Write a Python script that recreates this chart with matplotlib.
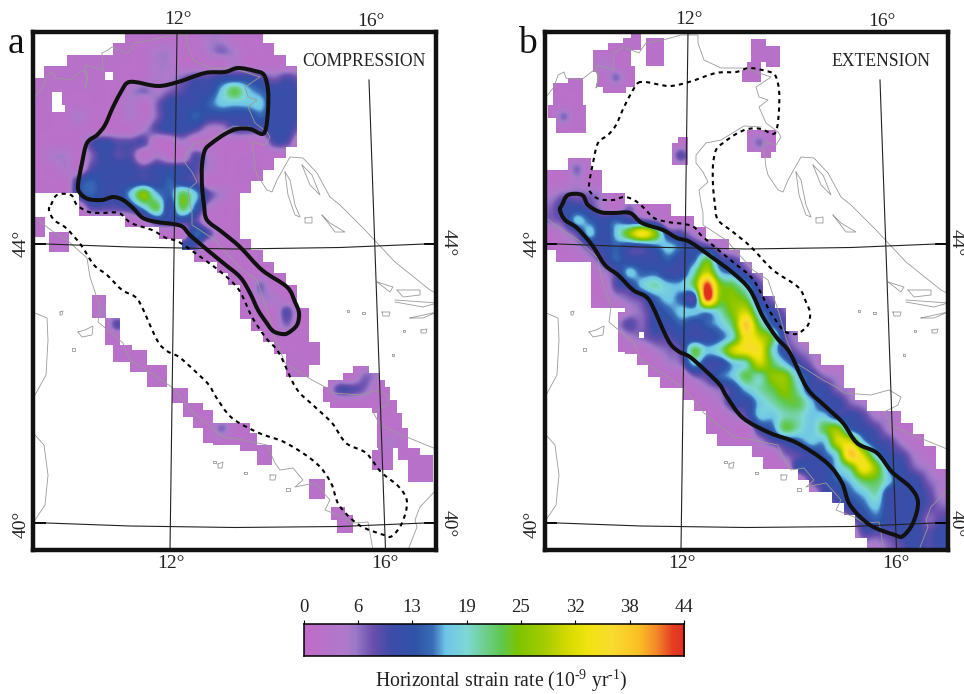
import numpy as np
import matplotlib
matplotlib.use('Agg')
import matplotlib.pyplot as plt
from matplotlib.colors import LinearSegmentedColormap, Normalize
from matplotlib.path import Path
from matplotlib.patches import PathPatch

plt.rcParams['font.family'] = ['Liberation Serif', 'DejaVu Serif']
plt.rcParams['mathtext.fontset'] = 'custom'
plt.rcParams['mathtext.rm'] = 'Liberation Serif'

W, H = 964, 694

# ---- strain-rate levels used in the gridded rows ----
LEVEL_CODES = {'.': 2, 'a': 5, 'b': 7, 'c': 9, 'd': 11, 'e': 14, 'f': 17, 'g': 20,
               'h': 23, 'i': 26, 'j': 30, 'k': 34, 'l': 38, 'm': 44}

CBAR_STOPS = [(0, '#C06CC8'), (5, '#AE7ACB'), (6, '#9A78C8'), (8, '#6A4FAE'), (10, '#3F4CA8'),
              (13, '#2F53A8'), (15, '#3A6DB8'), (16.5, '#6FC5E8'), (19, '#7ED9D5'), (21, '#70CF90'),
              (23, '#5FC850'), (25, '#7DC400'), (28, '#A5CC00'), (31, '#D8DC00'), (33, '#F0E410'),
              (36, '#FADC30'), (39, '#FBC125'), (41, '#F48C2A'), (43, '#E63E22'), (44.4, '#E03020')]
CBAR_LABELS = ['0', '6', '13', '19', '25', '32', '38', '44']

STRAIN_A = [
 "..... ..... ...aa",
 "..... ....a a..ab a",
 "..... ....a a.... a",
 "..... ....a abccd ddcbc b",
 "..... ..aba bcddf hfedd c",
 "..... ..a.b dddef fffdd c",
 "...a. ..a.b ddedd ddedd c",
 "..... ...ac ddcaa cccdd b",
 "....c dccc. .a... ...cc",
 ".aa.b dcc.a ..ca.",
 "..a.c dddcd ddca.",
 "...de ddddd edc..",
 "...de ddfif ehfc a",
 "....c ccdfh dhea.",
 "..... ...ad ddc..",
 "..... ..... ..ec.",
 "..... ..... .dc..",
 "", "",
 "..... ..... ..... ..b",
 "..... ..... ..... ..aa",
 "..... a.... ..... ....c",
 "..... .c... ..... ....b",
 "", "",
 "..... ..... ..... ..... ..... .a",
 "..... ..... ..... ..... ..... ba",
 "..... ..... ..... ..... ...cc b",
 "", "",
 "..... ..... ....b",
 "..... ..... ..... ..... ..... ..a",
]

STRAIN_B = [
 "", "",
 "....a",
 "..... b",
 "", "",
 ".b.a.",
 "",
 "..... ..... ..... .b",
 "..... ..... c",
 "..b",
 "..a",
 "abbba",
 "bddca .b",
 "bcfed edcb",
 ".acfd fikid ca",
 "..acd eddef edca",
 "...ac eddde dehdc a",
 "....a cfeed dgjfe ca",
 "..... cdfgf fhmih fca",
 "..... abcef edmii hdba",
 "..... .abde fffgi jfdb",
 "..... acbdd edefh lheca",
 "..... .abcc dddeg kjhca",
 "..... ...ab chfgj kkgdb a",
 "..... ....a bfddf gjhfd b",
 "..... ..... .bcef hgiif dba",
 "..... ..... ..abd fghig ddba",
 "..... ..... ...ad dfghh fddba",
 "..... ..... ....a cffgg ffddc aa",
 "..... ..... ..... .dehg fhied ca",
 "..... ..... ..... .acde ffjjf dca",
 "..... ..... ..... ...bc deglj fdca",
 "..... ..... ..... ....d ddfhk iedba",
 "..... ..... ..... ..... cdefh hfddb a",
 "..... ..... ..... ..... .cdef gdddc a",
 "..... ..... ..... ..... ..cde fdddc b",
 "..... ..... ..... ..... ...bd edddb c",
 "..... ..... ..... ..... ....c ccddc d",
 "..... ..... ..... ..... ....a abcdc d",
]

# ---- covered areas (map coordinates of the shared frame) ----
COVER_A_MAIN = [(125,32),(258,32),(262,40),(278,40),(280,55),(290,55),(293,75),(296,110),(297,130),
 (293,150),(285,155),(273,165),(262,172),(250,182),(240,195),(235,205),(235,228),(245,238),(255,248),
 (268,262),(282,277),(292,285),(300,300),(306,325),(312,342),(317,350),(317,367),(310,375),(303,381),
 (290,375),(283,365),(277,345),(262,332),(250,322),(240,310),(238,290),(232,280),(215,262),(190,255),
 (180,240),(160,240),(155,233),(125,225),(115,215),(97,218),(90,212),(75,208),(76,188),(35,188),
 (33,77),(45,72),(62,64),(77,58),(110,58),(110,50),(125,45)]
COVER_A_RECTS = [(35,45,217,237),(49,69,232,252),(92,106,295,318),(105,120,318,345),(113,132,345,362),
 (130,147,350,372),(147,167,365,387),(172,188,388,403),(183,203,403,417),(193,213,410,428),
 (203,250,423,443),(213,257,433,445),(240,257,443,451),(257,272,445,465),(63,67,168,188),
 (309,325,479,499),(331,345,507,520),(337,353,515,533),(353,369,366,373),(343,380,373,380),
 (328,385,380,387),(323,390,387,402),(330,377,402,408),(372,397,400,413),(377,402,413,428),
 (377,408,428,448),(372,393,450,470),(378,393,445,452),(398,420,448,460),(408,433,455,482)]
HOLES_A = [(105,113,72,80),(52,62,92,112),(58,65,105,112)]

COVER_B_MAIN = [(35,175),(57,175),(57,155),(72,155),(72,162),(81,170),(86,177),(86,193),(106,192),
 (116,192),(116,199),(135,200),(135,217),(140,207),(155,207),(155,220),(169,221),(193,222),(193,233),
 (209,236),(214,248),(224,250),(224,263),(239,263),(246,273),(254,283),(256,297),(264,307),(275,318),
 (286,340),(296,353),(307,360),(327,367),(332,393),(344,395),(355,407),(376,408),(386,415),(396,422),
 (402,435),(419,448),(426,463),(437,468),(437,552),(354,552),(342,523),(331,517),(326,507),(315,497),
 (304,490),(296,480),(256,463),(246,457),(231,450),(214,443),(202,435),(192,423),(189,413),(159,388),
 (146,377),(127,365),(111,352),(111,312),(117,310),(116,302),(89,309),(81,300),(77,282),(79,265),
 (72,265),(49,258),(42,250),(35,243)]
COVER_B_RECTS = [(81,119,50,72),(96,111,43,52),(111,129,38,50),(119,129,32,38),(134,152,38,66),
 (85,123,66,87),(91,114,87,93),(41,71,83,108),(56,71,78,85),(36,74,105,118),(44,74,118,133),
 (166,176,137,143),(160,176,143,165),(239,254,39,62),(254,268,46,67),(235,249,62,82),(230,249,70,82),
 (235,264,130,152),(249,259,152,158),(106,133,312,352)]
HOLES_B = [(127,132,332,338)]

# ---- the two strain-rate outlines ----
OUTLINE_COMPRESSION = [(127,83),(135,82),(158,86),(178,82),(205,73),(225,72),(238,68),(255,71),(264,75),
 (268,90),(268,110),(266,128),(262,134),(250,129),(237,129),(225,134),(212,143),(205,150),(202,165),
 (202,185),(204,205),(207,220),(222,232),(240,247),(262,270),(287,287),(295,302),(299,313),(297,325),
 (288,333),(282,334),(273,331),(266,322),(258,310),(250,293),(240,277),(222,262),(192,237),(183,227),
 (173,224),(157,222),(143,218),(133,208),(123,200),(113,197),(102,200),(88,199),(80,193),(78,185),
 (82,163),(87,143),(97,135),(105,125),(113,107),(122,90)]
OUTLINE_EXTENSION = [(51,205),(57,195),(71,195),(77,205),(89,212),(102,213),(119,213),(131,223),(152,230),
 (166,238),(179,242),(202,258),(222,273),(239,290),(252,317),(266,338),(279,353),(296,388),(314,406),
 (332,423),(346,443),(366,453),(381,472),(399,487),(407,502),(402,523),(392,536),(384,535),(359,525),
 (339,505),(331,483),(316,463),(286,443),(259,433),(232,418),(216,397),(209,385),(196,372),(179,357),
 (167,351),(157,340),(141,305),(134,296),(122,290),(107,275),(94,265),(81,245),(66,228),(54,220),(49,210)]

# ---- coastlines ----
COASTS = [
 [(35,97),(43,87),(47,75),(53,72),(55,78),(70,80),(83,70),(88,75),(85,88),(87,80),(85,65),(103,70),(102,53),
  (108,50),(112,47),(128,53),(135,43),(152,40),(170,35),(187,35),(187,43),(193,60),(210,68),(233,68),(260,77),
  (245,87),(248,97),(257,100),(248,107),(255,123),(267,132),(270,137),(265,145),(252,142),(255,167),(257,175),
  (267,190),(272,192),(277,180),(290,157),(303,158),(317,173),(330,197),(340,205),(365,230),(395,262),(430,290),(436,293)],
 [(250,127),(233,126),(210,140),(195,143),(185,155),(185,163),(192,172),(197,182),(188,190),(190,203),(192,213),
  (192,225),(215,240),(242,270),(257,280),(268,313),(275,338),(285,363),(312,380),(327,388),(333,393),(360,395),
  (378,390),(390,397),(387,405),(373,412),(380,425),(397,433),(436,449)],
 [(35,218),(55,233),(67,240),(87,258),(90,277),(100,307),(98,322),(123,343),(130,360),(157,377),(173,388),(193,413),
  (223,437),(243,440),(267,445),(275,463),(280,470),(293,468),(303,480),(295,487),(315,483),(330,500),(325,510),
  (343,517),(353,523),(368,522),(373,550)],
 [(436,490),(420,507),(415,520),(417,527),(408,550)],
 [(35,313),(47,318),(48,340),(46,375),(35,395)],
 [(35,435),(44,445),(48,475),(45,505),(35,520)],
 [(78,332),(85,330),(93,326),(92,335),(82,337),(78,332)],
 [(285,172),(290,180),(295,205),(300,217),(295,215),(288,195),(285,172)],
 [(302,165),(312,175),(320,195),(310,185),(302,165)],
 [(305,218),(312,217),(312,223),(305,223),(305,218)],
 [(322,215),(330,223),(345,232),(335,232),(322,215)],
 [(377,282),(393,287),(390,292),(377,282)],
 [(397,290),(420,290),(420,295),(403,297),(397,290)],
 [(395,300),(437,303),(423,307),(395,302)],
 [(410,318),(437,312),(423,318),(410,318)],
 [(382,312),(390,312),(389,316),(383,316),(382,312)],
 [(421,330),(427,329),(426,333),(421,333),(421,330)],
 [(347,310),(349,310),(349,312),(347,312),(347,310)],
 [(362,312),(365,312),(365,314),(362,314),(362,312)],
 [(403,330),(405,330),(405,332),(403,332),(403,330)],
 [(392,354),(394,354),(394,356),(392,356),(392,354)],
 [(213,461),(216,461),(216,463),(213,463),(213,461)],
 [(218,464),(223,462),(222,468),(218,468),(218,464)],
 [(244,472),(247,472),(247,474),(244,474),(244,472)],
 [(270,475),(276,475),(275,480),(270,480),(270,475)],
 [(286,488),(290,488),(290,491),(286,491),(286,488)],
 [(60,312),(63,311),(62,315),(60,315),(60,312)],
 [(72,348),(75,348),(75,351),(72,351),(72,348)],
]

# ---- graticule ----
MERIDIAN_12 = [(177,32),(170,550)]
MERIDIAN_16 = [(369,80),(385.5,550)]
PARALLEL_44 = [(33,243.5),(130,247),(235,249),(340,247.5),(437,243.5)]
PARALLEL_40 = [(33,522.5),(130,526),(235,527.5),(340,526.5),(437,522.5)]

PANELS = [
 dict(letter='a', title='COMPRESSION', title_x=363.5, rows=STRAIN_A, main=COVER_A_MAIN, rects=COVER_A_RECTS,
      holes=HOLES_A, solid=OUTLINE_COMPRESSION, dashed=OUTLINE_EXTENSION, offset=0, xlim=(33, 435.5), right_x=448),
 dict(letter='b', title='EXTENSION', title_x=369.5, rows=STRAIN_B, main=COVER_B_MAIN, rects=COVER_B_RECTS,
      holes=HOLES_B, solid=OUTLINE_EXTENSION, dashed=OUTLINE_COMPRESSION, offset=511, xlim=(33.5, 436.5), right_x=445),
]

cmap = LinearSegmentedColormap.from_list('strain', [(v / 44.4, c) for v, c in CBAR_STOPS], N=512)
norm = Normalize(0, 44.4)
CELL = 13
NCOLS, NROWS = 31, 40
STEP = 11.5


def px_axes(x0, x1, y0, y1):
    return fig.add_axes([x0 / W, 1 - y1 / H, (x1 - x0) / W, (y1 - y0) / H])


def decode(rows):
    out = np.full((NROWS, NCOLS), float(LEVEL_CODES['.']))
    for r, s in enumerate(rows):
        s = s.replace(' ', '').ljust(NCOLS, '.')[:NCOLS]
        out[r] = [LEVEL_CODES[c] for c in s]
    return out


def white_mask(p):
    xs = np.arange(33, 438) + 0.5
    ys = np.arange(32, 552) + 0.5
    gx, gy = np.meshgrid(xs, ys)
    cx = (np.floor((gx - 33) / STEP) + 0.5) * STEP + 33
    cy = (np.floor((gy - 32) / STEP) + 0.5) * STEP + 32
    inside = Path(p['main']).contains_points(np.c_[cx.ravel(), cy.ravel()]).reshape(gx.shape)
    for a, b, c, d in p['rects']:
        inside |= (gx >= a) & (gx < b) & (gy >= c) & (gy < d)
    for a, b, c, d in p['holes']:
        inside &= ~((gx >= a) & (gx < b) & (gy >= c) & (gy < d))
    rgba = np.ones(gx.shape + (4,))
    rgba[..., 3] = (~inside).astype(float)
    return rgba


def closed_curve(pts):
    """Closed Bezier path passing through the read outline points."""
    p = np.array(pts, float)
    n = len(p)
    verts = [p[0]]
    codes = [Path.MOVETO]
    for i in range(n):
        p0, p1, p2, p3 = p[i - 1], p[i], p[(i + 1) % n], p[(i + 2) % n]
        verts += [p1 + (p2 - p0) / 6, p2 - (p3 - p1) / 6, p2]
        codes += [Path.CURVE4] * 3
    return Path(verts, codes)


fig = plt.figure(figsize=(W / 100, H / 100), dpi=100, facecolor='white')

for p in PANELS:
    off = p['offset']
    ax = px_axes(p['xlim'][0] + off, p['xlim'][1] + off, 32, 550)
    ax.imshow(decode(p['rows']), cmap=cmap, norm=norm, extent=(33, 33 + NCOLS * CELL, 32 + NROWS * CELL, 32),
              interpolation='catrom', interpolation_stage='data', aspect='auto', zorder=1)
    ax.imshow(white_mask(p), extent=(33, 438, 552, 32), interpolation='nearest', aspect='auto', zorder=2)
    for c in COASTS:
        ax.plot(*zip(*c), color='#9a9a9a', lw=0.6, zorder=3, solid_joinstyle='round')
    for g in (MERIDIAN_12, MERIDIAN_16, PARALLEL_44, PARALLEL_40):
        ax.plot(*zip(*g), color='#222222', lw=0.8, zorder=4)
    for g in (PARALLEL_44, PARALLEL_40):
        ax.plot([g[0][0], g[0][0] + 12], [g[0][1], g[0][1]], color='black', lw=1.3, zorder=4)
        ax.plot([g[-1][0] - 12, g[-1][0]], [g[-1][1], g[-1][1]], color='black', lw=1.3, zorder=4)
    ax.add_patch(PathPatch(closed_curve(p['dashed']), fill=False, ec='black', lw=1.5, ls=(0, (2, 2)), zorder=5))
    ax.add_patch(PathPatch(closed_curve(p['solid']), fill=False, ec='#111111', lw=2.9, zorder=6))
    ax.set_xlim(*p['xlim'])
    ax.set_ylim(550, 32)
    ax.set_xticks([])
    ax.set_yticks([])
    for s in ax.spines.values():
        s.set_linewidth(3.2)
        s.set_color('#111111')
        s.set_zorder(10)
    tk = dict(color='#222222', fontsize=14, ha='center', va='center')
    for lab, x, y in (('12°', 178, 19), ('16°', 371, 21), ('12°', 171, 563), ('16°', 385, 563)):
        fig.text((x + off) / W, 1 - y / H, lab, **tk)
    for lab, y in (('44°', 243), ('40°', 524)):
        fig.text((21 + off) / W, 1 - y / H, lab, rotation=90, **tk)
        fig.text((p['right_x'] + off) / W, 1 - y / H, lab, rotation=270, **tk)
    fig.text((16 + off) / W, 1 - 44 / H, p['letter'], fontsize=27, color='#111111', ha='center', va='center')
    fig.text((p['title_x'] + off) / W, 1 - 61 / H, p['title'], fontsize=12.7, color='#222222', ha='center', va='center')

cax = px_axes(303.5, 684, 624, 656)
cax.imshow(np.linspace(0, 44.4, 512)[None, :], cmap=cmap, norm=norm, extent=(0, 44.4, 0, 1), aspect='auto')
cax.set_yticks([])
cax.set_xticks(np.linspace(0, 44.4, len(CBAR_LABELS)))
cax.set_xticklabels(CBAR_LABELS, fontsize=13.5, color='#222222')
cax.xaxis.tick_top()
cax.tick_params(axis='x', length=3, width=0.8, pad=3)
for s in cax.spines.values():
    s.set_linewidth(1.1)
fig.text(501 / W, 1 - 681 / H, 'Horizontal strain rate (10$^{\\mathrm{\u20109}}$ yr$^{\\mathrm{\u20101}}$)',
         fontsize=14.2, color='#222222', ha='center', va='center')

fig.savefig('out.png', dpi=100)
